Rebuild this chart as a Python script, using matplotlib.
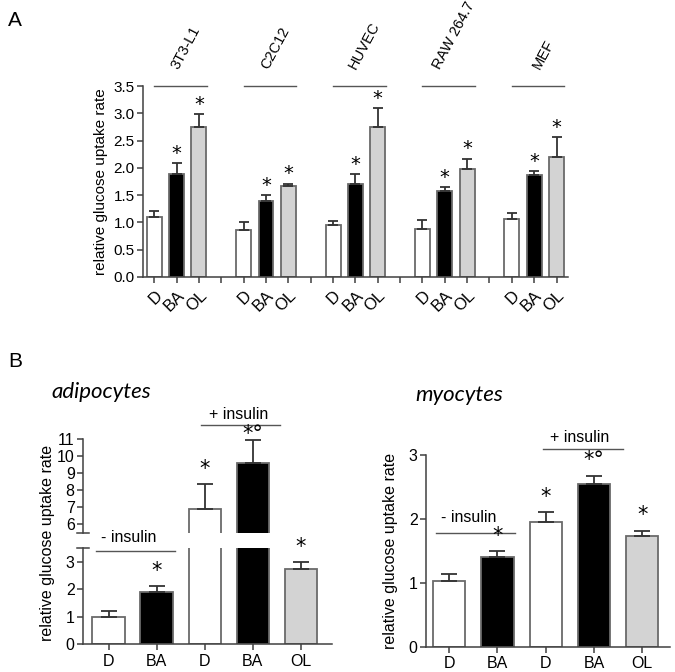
import matplotlib
matplotlib.use('Agg')
import matplotlib.pyplot as plt
import matplotlib.transforms as mtransforms
import numpy as np

plt.rcParams['font.family'] = ['Liberation Sans', 'DejaVu Sans']

# panel A: glucose uptake per cell line
cell_lines = ['3T3-L1', 'C2C12', 'HUVEC', 'RAW 264.7', 'MEF']
treatments = ['D', 'BA', 'OL']
a_mean = [[1.10, 1.88, 2.74],
          [0.86, 1.40, 1.67],
          [0.95, 1.71, 2.74],
          [0.88, 1.57, 1.98],
          [1.07, 1.87, 2.20]]
a_sem = [[0.10, 0.21, 0.25],
         [0.14, 0.10, 0.04],
         [0.07, 0.18, 0.35],
         [0.17, 0.07, 0.19],
         [0.10, 0.07, 0.37]]
a_marks = ['', '*', '*']

# panel B: adipocytes / myocytes -/+ insulin
b_labels = ['D', 'BA', 'D', 'BA', 'OL']
adipo_mean = [1.00, 1.89, 6.88, 9.58, 2.73]
adipo_sem = [0.19, 0.21, 1.45, 1.35, 0.25]
myo_mean = [1.03, 1.40, 1.96, 2.55, 1.74]
myo_sem = [0.11, 0.10, 0.15, 0.13, 0.08]
b_marks = ['', '*', '*', '*°', '*']

fill = {'D': 'white', 'BA': 'black', 'OL': '#d3d3d3'}
edge = '#6a6a6a'
axcol = '#404040'


def style(ax, fs):
    for s in ['top', 'right']:
        ax.spines[s].set_visible(False)
    for s in ['left', 'bottom']:
        ax.spines[s].set_color(axcol)
        ax.spines[s].set_linewidth(1.1)
    ax.tick_params(direction='out', length=4, width=1.1, color=axcol, labelsize=fs, pad=2)


def bars(ax, x, mean, sem, labels, capsize):
    ax.bar(x, mean, width=0.67, color=[fill[l] for l in labels], edgecolor=edge, linewidth=1.3,
           yerr=[np.zeros(len(mean)), sem],
           error_kw=dict(ecolor='#333333', elinewidth=1.3, capsize=capsize, capthick=1.3))


def star(ax, x, top, mark, gap, fs):
    # gap = distance (points) from error-bar top to star centre
    if mark:
        ax.annotate(mark, (x, top), xytext=(0, gap), textcoords='offset points',
                    ha='center', va='center', fontsize=fs, family='DejaVu Sans',
                    annotation_clip=False)


fig = plt.figure(figsize=(6.75, 6.72), dpi=100)

# ---------------- panel A ----------------
axA = fig.add_axes([0.212, 0.588, 0.629, 0.284])
style(axA, 11)
trans = mtransforms.blended_transform_factory(axA.transData, axA.transAxes)
xpos, xlab = [], []
for g, name in enumerate(cell_lines):
    x = np.arange(3) + g * 4
    bars(axA, x, a_mean[g], a_sem[g], treatments, 3.5)
    for xi, m, s, mk in zip(x, a_mean[g], a_sem[g], a_marks):
        star(axA, xi, m + s, mk, 7, 14)
    axA.plot([g * 4, g * 4 + 2.35], [3.5, 3.5], color='#555555', lw=1, clip_on=False)
    axA.text(g * 4 + 1.4, 1.075, name, rotation=62, ha='center', va='bottom',
             fontsize=10.5, transform=trans)
    xpos += list(x)
    xlab += treatments
    if g < len(cell_lines) - 1:
        xpos.append(g * 4 + 3)
        xlab.append('')
axA.set_xticks(xpos)
axA.set_xticklabels(xlab, rotation=45, ha='right', rotation_mode='anchor')
axA.tick_params(axis='x', labelsize=12, pad=4)
axA.set_xlim(-0.5, 18.5)
axA.set_ylim(0, 3.5)
axA.set_yticks(np.arange(0, 3.51, 0.5))
axA.set_yticklabels(['%.1f' % v for v in np.arange(0, 3.51, 0.5)])
axA.set_ylabel('relative glucose uptake rate', fontsize=11, labelpad=4)

fig.text(0.012, 0.97, 'A', fontsize=15, va='center')
fig.text(0.012, 0.462, 'B', fontsize=15, va='center')

# ---------------- panel B: adipocytes (broken axis) ----------------
xb = np.arange(5)
up = fig.add_axes([0.123, 0.207, 0.369, 0.140])
lo = fig.add_axes([0.123, 0.0417, 0.369, 0.143])
for ax in (up, lo):
    style(ax, 11.5)
    bars(ax, xb, adipo_mean, adipo_sem, b_labels, 6)
    ax.set_xlim(-0.53, 4.65)
up.set_ylim(5.5, 11)
up.set_yticks(range(6, 12))
up.spines['bottom'].set_visible(False)
up.set_xticks([])
lo.set_ylim(0, 3.5)
lo.set_yticks(range(0, 4))
lo.set_xticks(xb)
lo.set_xticklabels(b_labels)
lo.tick_params(axis='x', pad=3)
# break caps on the y axis
for ax, yv in ((up, 0), (lo, 1)):
    ax.plot([-0.025, 0.025], [yv, yv], color=axcol, lw=1.1, transform=ax.transAxes, clip_on=False)

for xi, m, s, mk in zip(xb, adipo_mean, adipo_sem, b_marks):
    t = m + s
    # the tallest star is squeezed under the "+ insulin" bracket
    star(up if t > 3.5 else lo, xi, t, mk, 4 if t > 10.5 else 11, 15)

lo.plot([-0.26, 1.39], [3.39, 3.39], color='#555555', lw=1, clip_on=False)
lo.text(0.41, 3.62, '- insulin', ha='center', va='bottom', fontsize=11.5, clip_on=False)
up.plot([1.92, 3.56], [11.78, 11.78], color='#555555', lw=1, clip_on=False)
up.text(2.7, 12.0, '+ insulin', ha='center', va='bottom', fontsize=11.5, clip_on=False)

fig.text(0.071, 0.192, 'relative glucose uptake rate', rotation=90, ha='center', va='center', fontsize=11.5)
fig.text(0.076, 0.417, 'adipocytes', fontsize=16, style='italic', va='center', family='Lato')

# ---------------- panel B: myocytes ----------------
axM = fig.add_axes([0.631, 0.0376, 0.362, 0.285])
style(axM, 11.5)
bars(axM, xb, myo_mean, myo_sem, b_labels, 6)
for xi, m, s, mk in zip(xb, myo_mean, myo_sem, b_marks):
    star(axM, xi, m + s, mk, 11, 15)
axM.set_xlim(-0.48, 4.58)
axM.set_ylim(0, 3)
axM.set_yticks(range(0, 4))
axM.set_xticks(xb)
axM.set_xticklabels(b_labels)
axM.tick_params(axis='x', pad=3)
axM.set_ylabel('relative glucose uptake rate', fontsize=11.5, labelpad=8)
axM.plot([-0.27, 1.37], [1.78, 1.78], color='#555555', lw=1, clip_on=False)
axM.text(0.4, 1.9, '- insulin', ha='center', va='bottom', fontsize=11.5)
axM.plot([1.95, 3.6], [3.09, 3.09], color='#555555', lw=1, clip_on=False)
axM.text(2.7, 3.16, '+ insulin', ha='center', va='bottom', fontsize=11.5, clip_on=False)
fig.text(0.616, 0.412, 'myocytes', fontsize=16, style='italic', va='center', family='Lato')

fig.savefig('out.png', dpi=100)
